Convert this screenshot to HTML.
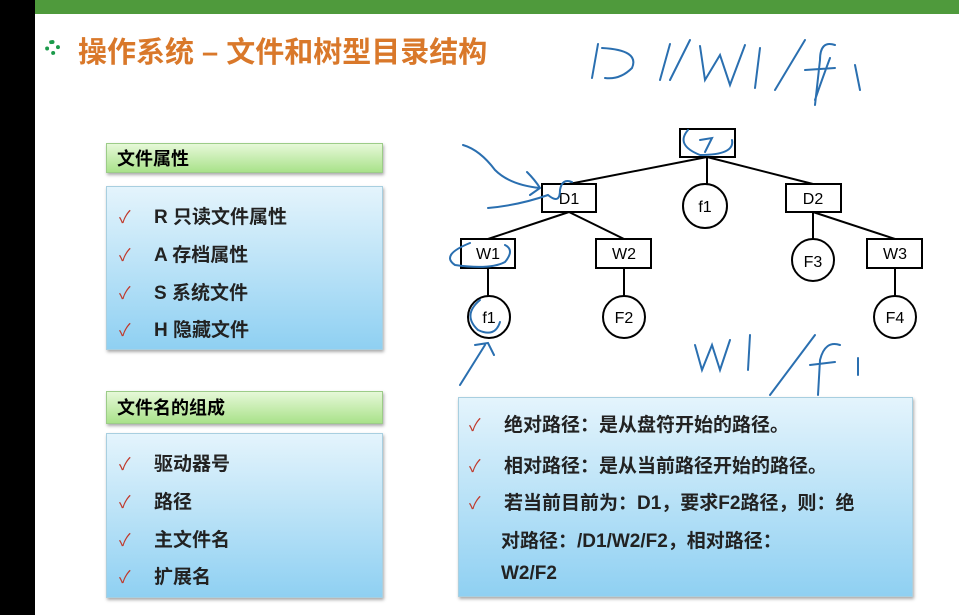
<!DOCTYPE html>
<html><head><meta charset="utf-8"><style>
body{margin:0;width:959px;height:615px;overflow:hidden;background:#000;position:relative;font-family:"Liberation Sans","Noto Sans CJK SC",sans-serif}
.slide{position:absolute;left:35px;top:0;width:924px;height:615px;background:#fff}
.topbar{position:absolute;left:35px;top:0;width:924px;height:14px;background:#4f9a3c}
.title{position:absolute;left:78px;top:29px;font-size:29px;font-weight:bold;color:#d9782a;letter-spacing:0px}
.icon{position:absolute;left:45px;top:40px;width:15px;height:15px;border-radius:50%;border:4px dotted #1b9a4a;box-sizing:border-box}
.hdr{position:absolute;left:106px;width:277px;height:30px;background:linear-gradient(#e6f8d8,#a9e28a);border:1px solid #9ccc88;box-shadow:1px 2px 3px #aaa;font-weight:bold;font-size:18px;line-height:30px;padding-left:10px;box-sizing:border-box}
.blue{position:absolute;background:linear-gradient(#e4f4fc,#8fd0f2);border:1px solid #a8cfe0;box-shadow:1px 2px 3px #aaa;box-sizing:border-box;font-weight:bold;font-size:19px;color:#222}
.blue div{position:absolute;white-space:nowrap}
.ck{color:#c0392b;font-weight:normal;font-size:17px;display:inline-block;width:35px}
</style></head><body>
<div class="slide"></div>
<div class="topbar"></div>
<div class="icon"></div>
<div class="title">操作系统 – 文件和树型目录结构</div>

<div class="hdr" style="top:143px">文件属性</div>
<div class="blue" style="left:106px;top:186px;width:277px;height:164px">
<div style="left:12px;top:15px"><span class="ck">✓</span>R 只读文件属性</div>
<div style="left:12px;top:53px"><span class="ck">✓</span>A 存档属性</div>
<div style="left:12px;top:91px"><span class="ck">✓</span>S 系统文件</div>
<div style="left:12px;top:128px"><span class="ck">✓</span>H 隐藏文件</div>
</div>
<div class="hdr" style="top:391px;height:33px;line-height:33px">文件名的组成</div>
<div class="blue" style="left:106px;top:433px;width:277px;height:165px">
<div style="left:12px;top:15px"><span class="ck">✓</span>驱动器号</div>
<div style="left:12px;top:53px"><span class="ck">✓</span>路径</div>
<div style="left:12px;top:91px"><span class="ck">✓</span>主文件名</div>
<div style="left:12px;top:128px"><span class="ck">✓</span>扩展名</div>
</div>
<div class="blue" style="left:458px;top:397px;width:455px;height:200px">
<div style="left:10px;top:12px"><span class="ck">✓</span>绝对路径：是从盘符开始的路径。</div>
<div style="left:10px;top:53px"><span class="ck">✓</span>相对路径：是从当前路径开始的路径。</div>
<div style="left:10px;top:90px"><span class="ck">✓</span>若当前目前为：D1，要求F2路径，则：绝</div>
<div style="left:42px;top:128px">对路径：/D1/W2/F2，相对路径：</div>
<div style="left:42px;top:165px">W2/F2</div>
</div>

<svg width="959" height="615" style="position:absolute;left:0;top:0" font-family="Liberation Sans, sans-serif" font-size="16">
<g stroke="#000" stroke-width="2" fill="#fff">
<line x1="707" y1="157" x2="569" y2="184"/><line x1="707" y1="157" x2="707" y2="184"/><line x1="707" y1="157" x2="813" y2="184"/>
<line x1="569" y1="212" x2="488" y2="239"/><line x1="569" y1="212" x2="624" y2="239"/>
<line x1="813" y1="212" x2="813" y2="239"/><line x1="813" y1="212" x2="895" y2="239"/>
<line x1="488" y1="268" x2="488" y2="296"/><line x1="624" y1="268" x2="624" y2="296"/><line x1="895" y1="268" x2="895" y2="296"/>
<rect x="680" y="129" width="55" height="28"/>
<rect x="542" y="184" width="54" height="28"/><rect x="786" y="184" width="55" height="28"/>
<rect x="461" y="239" width="54" height="29"/><rect x="596" y="239" width="55" height="29"/><rect x="867" y="239" width="55" height="29"/>
<circle cx="705" cy="206" r="22"/><circle cx="813" cy="260" r="21"/>
<circle cx="489" cy="317" r="21"/><circle cx="624" cy="317" r="21"/><circle cx="895" cy="317" r="21"/>
</g>
<g text-anchor="middle" fill="#000">
<text x="569" y="204">D1</text><text x="813" y="204">D2</text>
<text x="488" y="259">W1</text><text x="624" y="259">W2</text><text x="895" y="259">W3</text>
<text x="705" y="212">f1</text><text x="813" y="267">F3</text>
<text x="489" y="323">f1</text><text x="624" y="323">F2</text><text x="895" y="323">F4</text>
</g>
<g stroke="#2a6fb0" stroke-width="2" fill="none" stroke-linecap="round">
<path d="M700 140 L712 138 L705 152"/>
<path d="M688 130 Q675 145 700 155 Q735 155 732 140"/>
<path d="M463 145 Q480 150 495 170 Q510 185 540 188 M527 172 Q535 180 540 188 L530 195"/>
<path d="M488 208 Q520 205 548 195 Q560 205 560 190 Q562 178 572 182"/>
<path d="M470 243 Q440 255 455 265 Q490 270 505 262 Q515 250 505 245"/>
<path d="M480 300 Q462 315 478 330 Q495 338 500 322"/>
<path d="M460 385 L485 345 M475 345 L488 343 L494 355"/>
<path d="M592 78 L598 44 M602 48 Q640 50 632 68 Q620 80 605 78 M660 80 L670 44 M670 80 L690 40 M700 46 L705 80 L720 55 L730 85 L745 45 M760 48 L755 88 M775 90 L805 40 M830 58 Q820 85 815 100 M835 45 Q820 40 820 60 L815 105 M805 70 L835 68 M855 65 L860 90"/>
<path d="M695 345 L702 370 L712 345 L720 370 L730 340 M750 335 L748 370 M770 395 L815 335 M840 345 Q825 340 820 360 L818 395 M810 365 L835 362 M858 358 L858 375"/>
</g>
</svg>
</body></html>
